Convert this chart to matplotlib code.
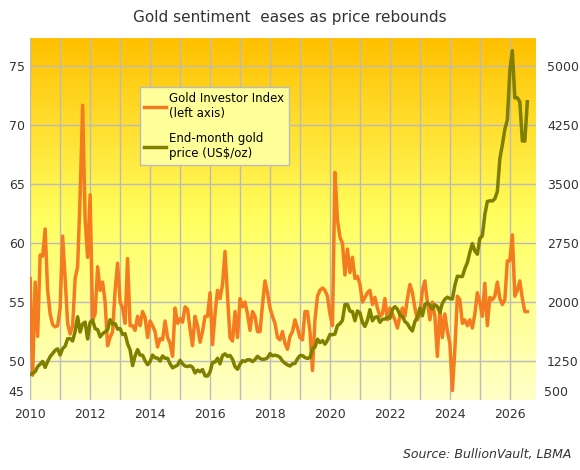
import numpy as np
import matplotlib.pyplot as plt
from matplotlib.colors import LinearSegmentedColormap

# --- data: monthly, Jan 2010 .. Aug 2026 ---
gii = [
    57, 48.8, 56.7, 52.1, 59, 58.9, 61.2, 56, 54, 53.1, 52.9, 53,
    54.5, 60.6, 57, 53.2, 52.3, 53, 57, 58, 64, 71.7, 62, 58.8,
    64.1, 53.5, 54, 58, 56, 56.7, 55, 51.3, 52, 52.5, 56, 58.3,
    55, 54.5, 53.2, 58.7, 53, 53, 52.6, 53.8, 53, 54.2, 53.7, 52,
    53.4, 53, 52.5, 51.2, 51.9, 51.8, 53.4, 52, 51.5, 50.4, 54.5, 53.2,
    53.6, 53.3, 54.6, 54.4, 52.7, 51.3, 53.8, 53, 51.6, 52.5, 53.8, 53.8,
    55.8, 51.4, 54, 56, 55.3, 56.5, 59.3, 55.5, 52, 51.7, 54.2, 52,
    55.3, 54.6, 55, 54, 52.6, 54.2, 53.8, 52.5, 52.5, 54.8, 56.8, 55.8,
    54.5, 53.8, 53.2, 52, 51.8, 52.5, 51.5, 51, 52.1, 52.5, 53.5, 52.8,
    52, 51.8, 54.2, 54.2, 52.5, 49.2, 53.5, 55.5, 56, 56.2, 56, 55.5,
    54, 53, 66, 62, 60.5, 60, 57.3, 59.5, 57.5, 58.8, 57, 57.2,
    56.5, 55, 55.4, 55.8, 56, 54.8, 55.4, 54.5, 53.8, 54, 55.3, 53.5,
    54.5, 54, 53.5, 52.8, 53.8, 54.5, 53.8, 55.3, 56.5, 55.8, 54.5, 53.5,
    54, 56, 56.8, 55, 53.5, 55, 53.8, 50.4, 54.5, 52, 54, 52.5,
    51.5, 47.5, 51, 55.5, 55.2, 53.2, 53.5, 53, 53.5, 52.8, 54, 55.8,
    55, 53.8, 56.6, 53, 55.4, 55.2, 55.5, 56.7, 55.3, 54.8, 55.2, 58.5,
    58.5, 60.7, 55.5, 56, 56.8, 55.3, 54.2, 54.2,
]
gold = [
    1080, 1095, 1115, 1180, 1210, 1245, 1170, 1245, 1307, 1346, 1386, 1405,
    1327, 1410, 1439, 1535, 1536, 1505, 1628, 1813, 1620, 1722, 1746, 1531,
    1744, 1770, 1662, 1651, 1558, 1598, 1622, 1648, 1776, 1720, 1726, 1657,
    1664, 1588, 1598, 1469, 1394, 1192, 1315, 1396, 1326, 1324, 1254, 1204,
    1244, 1326, 1291, 1288, 1250, 1315, 1286, 1285, 1216, 1164, 1182, 1199,
    1260, 1214, 1187, 1180, 1191, 1171, 1098, 1135, 1114, 1142, 1062, 1060,
    1111, 1234, 1237, 1286, 1215, 1320, 1342, 1309, 1322, 1272, 1178, 1146,
    1212, 1255, 1245, 1267, 1266, 1243, 1269, 1311, 1283, 1271, 1275, 1291,
    1345, 1317, 1325, 1316, 1298, 1250, 1224, 1201, 1187, 1215, 1221, 1279,
    1319, 1320, 1295, 1283, 1295, 1409, 1427, 1528, 1485, 1510, 1465, 1515,
    1588, 1585, 1594, 1702, 1725, 1768, 1970, 1970, 1886, 1879, 1763, 1888,
    1863, 1742, 1691, 1769, 1904, 1763, 1807, 1814, 1743, 1783, 1785, 1806,
    1795, 1909, 1942, 1911, 1837, 1817, 1753, 1726, 1671, 1633, 1754, 1812,
    1924, 1826, 1969, 1990, 1962, 1912, 1966, 1943, 1870, 1986, 2037, 2063,
    2045, 2040, 2214, 2330, 2326, 2326, 2427, 2503, 2635, 2745, 2650, 2610,
    2812, 2845, 3115, 3281, 3289, 3287, 3315, 3407, 3825, 4000, 4200, 4320,
    4950, 5200, 4600, 4600, 4550, 4050, 4050, 4550,
]
x = 2010 + np.arange(len(gold)) / 12

y_lo, y_hi = 46.7, 77.4

fig = plt.figure(figsize=(5.8, 4.7), dpi=100)
ax = fig.add_axes([0.052, 0.149, 0.872, 0.77])

# background gradient
cmap = LinearSegmentedColormap.from_list("bg", ["#FFFFC8", "#FFFF60", "#FFC000"])
grad = np.linspace(0, 1, 256).reshape(-1, 1)
ax.imshow(grad, cmap=cmap, aspect="auto", origin="lower",
          extent=[2010, 2026.87, y_lo, y_hi], zorder=0)

ax.set_xlim(2010, 2026.87)
ax.set_ylim(y_lo, y_hi)
ax.set_xticks(range(2010, 2027))
ax.set_xticklabels([str(y) if y % 2 == 0 else "" for y in range(2010, 2027)])
ax.set_yticks(range(50, 80, 5))
ax.grid(True, color="#BBBBBB", lw=1, zorder=1)

l1, = ax.plot(x, gii, color="#F47B20", lw=2.5, zorder=3, label="Gold Investor Index\n(left axis)")

ax2 = ax.twinx()
ax2.set_ylim(500 + (y_lo - 45) * 150, 500 + (y_hi - 45) * 150)
ax2.set_yticks(range(1250, 5001, 750))
l2, = ax2.plot(x, gold, color="#7F7F00", lw=2.5, zorder=2, label="End-month gold\nprice (US$/oz)")

for a in (ax, ax2):
    for s in a.spines.values():
        s.set_visible(False)
    a.tick_params(length=0, labelsize=9, colors="#333333")
ax.tick_params(axis="y", pad=4)
ax2.tick_params(axis="y", pad=8)
ax.tick_params(axis="x", pad=6)

# bottom labels of the two value axes sit just above the axis edge
ax.text(-0.012, 0.022, "45", transform=ax.transAxes, ha="right", va="center",
        fontsize=9, color="#333333")
ax.text(1.016, 0.022, "500", transform=ax.transAxes, ha="left", va="center",
        fontsize=9, color="#333333")

leg = ax.legend(handles=[l1, l2], loc="upper left", bbox_to_anchor=(0.205, 0.88),
                fontsize=8.5, frameon=True, fancybox=False, labelspacing=1.0,
                handlelength=1.8, handletextpad=0.3)
leg.get_frame().set_facecolor("#FFFF99")
leg.get_frame().set_edgecolor("#BBBBBB")
leg.get_frame().set_alpha(1)

fig.text(0.5, 0.962, "Gold sentiment  eases as price rebounds", ha="center", va="center",
         fontsize=11, color="#333333")
fig.text(0.985, 0.02, "Source: BullionVault, LBMA", ha="right", va="bottom",
         fontsize=9, style="italic", color="#333333")

fig.savefig("out.png", dpi=100, facecolor="white")
